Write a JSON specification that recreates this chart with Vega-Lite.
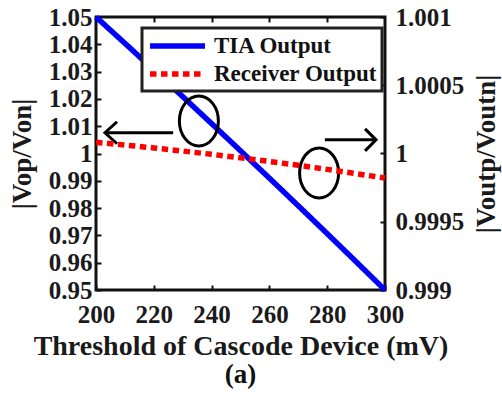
{
  "$schema": "https://vega.github.io/schema/vega-lite/v6.json",
  "width": 289,
  "height": 273,
  "autosize": "none",
  "padding": {"left": 96, "top": 17, "right": 117, "bottom": 103},
  "background": "white",
  "config": {
    "font": "Liberation Serif",
    "view": {"stroke": "#111", "strokeWidth": 3},
    "axis": {
      "labelFont": "Liberation Serif",
      "labelFontWeight": "bold",
      "labelFontSize": 25,
      "labelColor": "#1a1a1a",
      "titleFont": "Liberation Serif",
      "titleFontWeight": "bold",
      "titleFontSize": 27,
      "titleColor": "#1a1a1a",
      "domain": false,
      "grid": false,
      "tickColor": "#111",
      "tickWidth": 2,
      "labelOverlap": false,
      "labelFlush": false
    },
    "legend": {
      "labelFont": "Liberation Serif",
      "labelFontWeight": "bold",
      "labelFontSize": 23,
      "labelColor": "#111",
      "labelLimit": 0
    }
  },
  "title": {
    "text": "(a)",
    "orient": "bottom",
    "anchor": "middle",
    "font": "Liberation Serif",
    "fontWeight": "bold",
    "fontSize": 27,
    "color": "#111",
    "offset": 2
  },
  "datasets": {
    "tia": [
      {"x": 200, "series": "TIA Output", "v": 1.05},
      {"x": 210, "series": "TIA Output", "v": 1.04036},
      {"x": 220, "series": "TIA Output", "v": 1.03064},
      {"x": 230, "series": "TIA Output", "v": 1.02084},
      {"x": 240, "series": "TIA Output", "v": 1.01096},
      {"x": 250, "series": "TIA Output", "v": 1.001},
      {"x": 260, "series": "TIA Output", "v": 0.99096},
      {"x": 270, "series": "TIA Output", "v": 0.98084},
      {"x": 280, "series": "TIA Output", "v": 0.97064},
      {"x": 290, "series": "TIA Output", "v": 0.96036},
      {"x": 300, "series": "TIA Output", "v": 0.95}
    ],
    "receiver": [
      {"x": 200, "series": "Receiver Output", "v": 1.000082},
      {"x": 210, "series": "Receiver Output", "v": 1.000062},
      {"x": 220, "series": "Receiver Output", "v": 1.000041},
      {"x": 230, "series": "Receiver Output", "v": 1.000018},
      {"x": 240, "series": "Receiver Output", "v": 0.999994},
      {"x": 250, "series": "Receiver Output", "v": 0.9999685},
      {"x": 260, "series": "Receiver Output", "v": 0.9999416},
      {"x": 270, "series": "Receiver Output", "v": 0.9999133},
      {"x": 280, "series": "Receiver Output", "v": 0.9998836},
      {"x": 290, "series": "Receiver Output", "v": 0.9998525},
      {"x": 300, "series": "Receiver Output", "v": 0.99982}
    ],
    "ellipses": [
      {"x": 235.6, "v": 1.0119},
      {"x": 277.2, "v": 0.9929}
    ],
    "arrowShafts": [
      {"x": 226.7, "x2": 203.1, "v": 1.0076},
      {"x": 279.2, "x2": 296.9, "v": 1.005}
    ],
    "leftTip": [{"x": 203.1, "v": 1.0076}],
    "rightTip": [{"x": 296.9, "v": 1.005}]
  },
  "layer": [
    {
      "encoding": {
        "x": {
          "field": "x",
          "type": "quantitative",
          "scale": {"domain": [200, 300], "nice": false, "zero": false},
          "axis": {
            "orient": "bottom",
            "values": [200, 220, 240, 260, 280, 300],
            "tickSize": -5,
            "labelPadding": 17,
            "labelOverlap": false,
            "title": "Threshold of Cascode Device (mV)",
            "titleFontSize": 28,
            "titlePadding": 5
          }
        },
        "y": {
          "field": "v",
          "type": "quantitative",
          "scale": {"domain": [0.95, 1.05], "nice": false, "zero": false},
          "axis": {
            "orient": "left",
            "values": [0.95, 0.96, 0.97, 0.98, 0.99, 1, 1.01, 1.02, 1.03, 1.04, 1.05],
            "format": "~g",
            "tickSize": -5,
            "labelPadding": 9,
            "labelOverlap": false,
            "title": "|Vop/Von|",
            "titlePadding": 12
          }
        }
      },
      "layer": [
        {
          "data": {"name": "tia"},
          "mark": {"type": "line", "strokeWidth": 5.5, "strokeCap": "butt"},
          "encoding": {
            "color": {
              "field": "series",
              "type": "nominal",
              "scale": {"domain": ["TIA Output", "Receiver Output"], "range": ["#0000ff", "#ff0000"]},
              "legend": {
                "title": null,
                "orient": "none",
                "legendX": 46,
                "legendY": 11,
                "symbolType": "M -1,0 L 4.5,0",
                "symbolSize": 400,
                "symbolStrokeWidth": 5.5,
                "labelOffset": 41,
                "rowPadding": 3,
                "padding": 5,
                "fillColor": "white",
                "strokeColor": "#222",
                "encode": {"legend": {"update": {"strokeWidth": {"value": 3}}}}
              }
            },
            "strokeDash": {
              "field": "series",
              "type": "nominal",
              "scale": {"domain": ["TIA Output", "Receiver Output"], "range": [[1, 0], [6.5, 4.5]]},
              "legend": {
                "title": null,
                "orient": "none",
                "legendX": 46,
                "legendY": 11,
                "symbolType": "M -1,0 L 4.5,0",
                "symbolSize": 400,
                "symbolStrokeWidth": 5.5,
                "labelOffset": 41,
                "rowPadding": 3,
                "padding": 5
              }
            }
          }
        },
        {
          "data": {"name": "ellipses"},
          "mark": {
            "type": "point",
            "shape": "M -0.78,0 A 0.78,1 0 1,0 0.78,0 A 0.78,1 0 1,0 -0.78,0 Z",
            "filled": false,
            "size": 2500,
            "strokeWidth": 3,
            "color": "#000",
            "opacity": 1
          }
        },
        {
          "data": {"name": "arrowShafts"},
          "mark": {"type": "rule", "strokeWidth": 3, "color": "#000"},
          "encoding": {"x2": {"field": "x2"}}
        },
        {
          "data": {"name": "leftTip"},
          "mark": {
            "type": "point",
            "shape": "M 1.1,-1 L 0,0 L 1.1,1",
            "filled": false,
            "size": 484,
            "strokeWidth": 3,
            "color": "#000",
            "opacity": 1
          }
        },
        {
          "data": {"name": "rightTip"},
          "mark": {
            "type": "point",
            "shape": "M -1,-1 L 0,0 L -1,1",
            "filled": false,
            "size": 484,
            "strokeWidth": 3,
            "color": "#000",
            "opacity": 1
          }
        }
      ]
    },
    {
      "data": {"name": "receiver"},
      "mark": {"type": "line", "strokeWidth": 5.5, "strokeCap": "butt"},
      "encoding": {
        "x": {
          "field": "x",
          "type": "quantitative",
          "axis": {
            "orient": "top",
            "values": [220, 240, 260, 280],
            "labels": false,
            "tickSize": -5,
            "title": null
          }
        },
        "y": {
          "field": "v",
          "type": "quantitative",
          "scale": {"domain": [0.999, 1.001], "nice": false, "zero": false},
          "axis": {
            "orient": "right",
            "values": [0.999, 0.9995, 1, 1.0005, 1.001],
            "format": "~g",
            "tickSize": -5,
            "labelPadding": 15,
            "labelOverlap": false,
            "title": "|Voutp/Voutn|",
            "titleAngle": 270,
            "titleBaseline": "top",
            "titlePadding": 10
          }
        },
        "color": {"field": "series", "type": "nominal"},
        "strokeDash": {"field": "series", "type": "nominal"}
      }
    }
  ],
  "resolve": {"scale": {"y": "independent"}}
}
